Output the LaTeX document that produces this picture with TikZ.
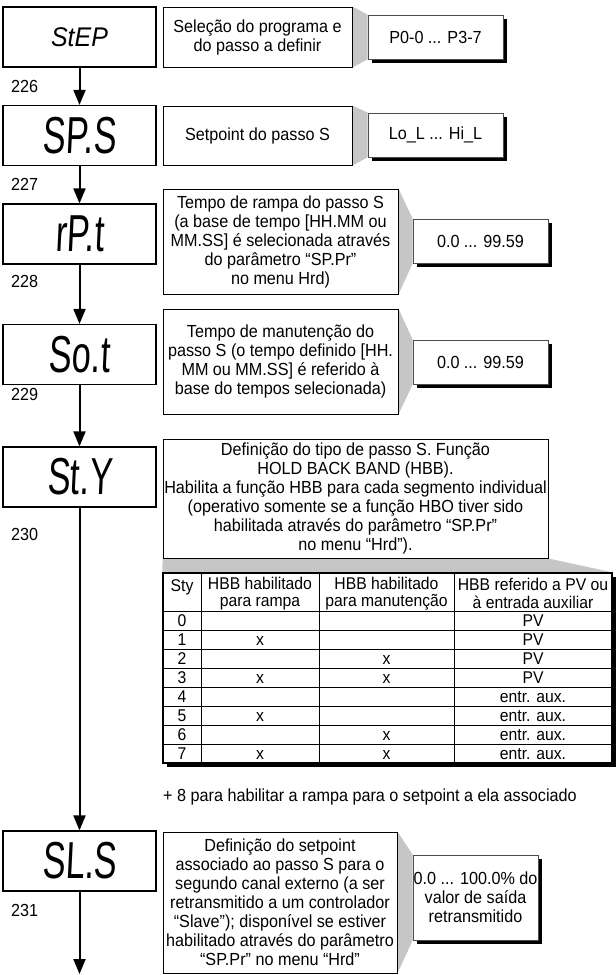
\documentclass[tikz,border=0pt]{standalone}
\usepackage{fontspec}
\setmainfont[FakeStretch=0.925]{Liberation Sans}
\newfontfamily\segfont[FakeStretch=0.66,FakeSlant=0.05]{Liberation Sans}
\usetikzlibrary{arrows.meta,shadows,backgrounds}
\newcommand\txt{\fontsize{17.5}{19}\selectfont}
\newcommand\tabtxt{\fontsize{17}{17.5}\selectfont}
\tikzset{disp/.style={draw,line width=1.2pt,minimum width=153pt,minimum height=60pt,inner sep=0pt,
    font=\segfont\fontsize{52}{52}\selectfont},
  desc/.style={draw,line width=0.9pt,align=center,inner sep=0pt,font=\txt},
  val/.style={draw=black!70,line width=0.7pt,fill=white,align=center,inner sep=0pt,font=\txt,
    minimum height=44pt,
    drop shadow={shadow xshift=4pt,shadow yshift=-4pt,fill=black,opacity=1}},
  link/.style={fill=gray!45},
  num/.style={anchor=west,inner sep=0pt,font=\txt},
  cell/.style={inner sep=0pt,font=\tabtxt,align=center,text height=12pt,text depth=3.5pt},
  arr/.style={-{Triangle[length=15pt,width=12pt]},line width=2pt}}

\begin{document}
\begin{tikzpicture}[x=1pt,y=-1pt]
\useasboundingbox (0,0) rectangle (616,975);
% display boxes
\node[disp,font=\itshape\fontsize{27}{27}\selectfont] (step) at (79.5,37) {StEP};
\node[disp] (sps) at (79.5,135.5) {SP.S};
\node[disp] (rpt) at (79.5,234) {rP.t};
\node[disp] (sot) at (79.5,354.5) {So.t};
\node[disp] (sty) at (79.5,477) {St.Y};
\node[disp] (sls) at (79.5,861) {SL.S};
\coordinate (end) at (79.5,974);
\draw[arr] (step) -- (sps);
\draw[arr] (sps) -- (rpt);
\draw[arr] (rpt) -- (sot);
\draw[arr] (sot) -- (sty);
\draw[arr] (sty) -- (sls);
\draw[arr] (sls) -- (end);
\node[num] (n226) at (11,86) {226};
\node[num] (n227) at (11,184) {227};
\node[num] (n228) at (11,281) {228};
\node[num] (n229) at (11,394) {229};
\node[num] (n230) at (11,534) {230};
\node[num] (n231) at (11,910) {231};
% descriptions
\node[desc,minimum width=189pt,minimum height=60pt] (d1) at (257.5,37)
  {Seleção do programa e\\do passo a definir};
\node[desc,minimum width=189pt,minimum height=59pt] (d2) at (257.5,135.5)
  {Setpoint do passo S};
\node[desc,minimum width=235pt,minimum height=105pt] (d3) at (280.5,241.5)
  {Tempo de rampa do passo S\\(a base de tempo [HH.MM ou\\MM.SS] é selecionada através\\do parâmetro “SP.Pr”\\no menu Hrd)};
\node[desc,minimum width=235pt,minimum height=105pt] (d4) at (280.5,361.5)
  {Tempo de manutenção do\\passo S (o tempo definido [HH.\\MM ou MM.SS] é referido à\\base do tempos selecionada)};
\node[desc,minimum width=385pt,minimum height=119pt] (d5) at (355.5,498.5)
  {Definição do tipo de passo S. Função\\HOLD BACK BAND (HBB).\\Habilita a função HBB para cada segmento individual\\(operativo somente se a função HBO tiver sido\\habilitada através do parâmetro “SP.Pr”\\no menu “Hrd”).};
\node[desc,minimum width=234pt,minimum height=141pt] (d6) at (280,902.5)
  {Definição do setpoint\\associado ao passo S para o\\segundo canal externo (a ser\\retransmitido a um controlador\\“Slave”); disponível se estiver\\habilitado através do parâmetro\\“SP.Pr” no menu “Hrd”};
% values
\node[val,minimum width=135pt] (v1) at (435.5,37) {P0-0 ... P3-7};
\node[val,minimum width=135pt] (v2) at (435.5,135) {Lo\_L ... Hi\_L};
\node[val,minimum width=135pt] (v3) at (480.5,241) {0.0 ... 99.59};
\node[val,minimum width=135pt] (v4) at (480.5,362) {0.0 ... 99.59};
\node[val,minimum width=125pt,minimum height=85pt] (v6) at (475.5,897.5)
  {0.0 ... 100.0\% do\\valor de saída\\retransmitido};
% table
\node[val,minimum width=449pt,minimum height=190pt,draw=black,line width=1.2pt] (tab) at (387.5,668) {};
\foreach \x in {201,319,454} \draw[line width=0.9pt] (\x,573) -- (\x,763);
\foreach \y in {611,630,649,668,687,706,725,744} \draw[line width=0.9pt] (163,\y) -- (612,\y);
\node[cell] (h1) at (182,587) {Sty};
\node[cell,text height=,text depth=] (h2) at (260,593.5) {HBB habilitado\\para rampa};
\node[cell,text height=,text depth=] (h3) at (386.5,593.5) {HBB habilitado\\para manutenção};
\node[cell,text height=,text depth=] (h4) at (533,593.5) {HBB referido a PV ou\\à entrada auxiliar};
\foreach \r/\a/\b/\c in {0/{}/{}/PV,1/x/{}/PV,2/{}/x/PV,3/x/x/PV,
    4/{}/{}/entr. aux.,5/x/{}/entr. aux.,6/{}/x/entr. aux.,7/x/x/entr. aux.}{
  \node[cell] (s\r) at (182,{622.5+19*\r}) {\r};
  \node[cell] (a\r) at (260,{622.5+19*\r}) {\a};
  \node[cell] (b\r) at (386.5,{622.5+19*\r}) {\b};
  \node[cell] (c\r) at (533,{622.5+19*\r}) {\c};
}
\node[num] (note) at (163,797) {+ 8 para habilitar a rampa para o setpoint a ela associado};
% grey links
\begin{scope}[on background layer]
\fill[link] (d1.north east) -- (v1.north west) -- (v1.south west) -- (d1.south east) -- cycle;
\fill[link] (d2.north east) -- (v2.north west) -- (v2.south west) -- (d2.south east) -- cycle;
\fill[link] (d3.north east) -- (v3.north west) -- (v3.south west) -- (d3.south east) -- cycle;
\fill[link] (d4.north east) -- (v4.north west) -- (v4.south west) -- (d4.south east) -- cycle;
\fill[link] (d6.north east) -- (v6.north west) -- (v6.south west) -- (d6.south east) -- cycle;
\fill[link] (d5.south west) -- (d5.south east) -- (tab.north east) -- (tab.north west) -- cycle;
\end{scope}
\end{tikzpicture}
\end{document}
